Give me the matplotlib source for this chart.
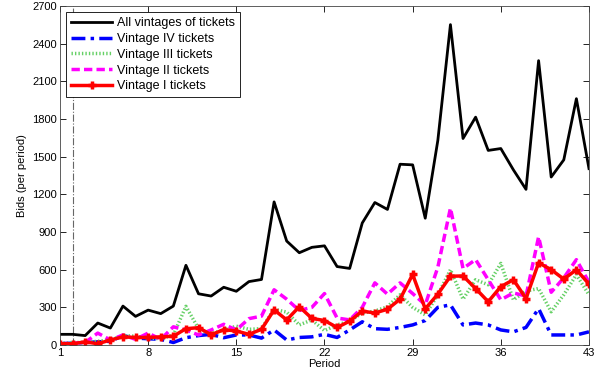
import numpy as np
import matplotlib
matplotlib.use("Agg")
import matplotlib.pyplot as plt

plt.rcParams.update({
    'font.family': ['Liberation Sans', 'DejaVu Sans'],
    'font.size': 8,
    'axes.labelsize': 8,
    'xtick.labelsize': 8,
    'ytick.labelsize': 8,
    'legend.fontsize': 9,
})

period = np.arange(1, 44)

all_vintages = [85, 85, 75, 175, 135, 310, 228, 278, 250, 310,
                635, 408, 390, 460, 428, 505, 522, 1140, 828, 735,
                778, 790, 625, 610, 972, 1135, 1080, 1440, 1435, 1010,
                1630, 2552, 1645, 1815, 1550, 1565, 1395, 1240, 2265, 1338,
                1475, 1962, 1405]
vintage_iv = [10, 15, 20, 25, 30, 75, 55, 50, 45, 20,
              58, 75, 85, 58, 80, 80, 55, 120, 40, 60,
              65, 85, 60, 120, 185, 130, 125, 140, 160, 195,
              300, 320, 160, 175, 160, 120, 105, 140, 290, 80,
              80, 80, 105]
vintage_iii = [15, 20, 20, 30, 40, 75, 70, 55, 50, 80,
               308, 130, 90, 120, 150, 125, 130, 285, 262, 160,
               200, 115, 160, 190, 255, 270, 305, 400, 300, 240,
               400, 600, 365, 520, 480, 650, 360, 430, 450, 265,
               400, 560, 400]
vintage_ii = [10, 15, 20, 95, 40, 80, 45, 95, 45, 145,
              120, 80, 120, 165, 120, 210, 230, 440, 365, 275,
              300, 410, 215, 200, 300, 495, 405, 495, 410, 320,
              620, 1090, 610, 680, 520, 360, 415, 390, 862, 420,
              535, 680, 500]
vintage_i = [10, 10, 25, 10, 40, 65, 60, 60, 65, 70,
             130, 138, 82, 122, 112, 85, 125, 280, 200, 305,
             212, 195, 140, 190, 270, 255, 285, 365, 562, 288,
             405, 548, 550, 450, 345, 465, 520, 370, 655, 600,
             525, 600, 485]

fig = plt.figure(figsize=(6.01, 3.83), dpi=100)
ax = fig.add_axes([0.0998, 0.0992, 0.8802, 0.885])

ax.axvline(2, color='#666666', linestyle='-.', linewidth=0.8, zorder=1)

ax.plot(period, all_vintages, color='black', linewidth=2, label='All vintages of tickets')
ax.plot(period, vintage_iv, color='#0000ff', linestyle='-.', dashes=(4, 1.5, 1, 1.5),
        linewidth=2.5, label='Vintage IV tickets')
ax.plot(period, vintage_iii, color='#66d066', linestyle=':', dashes=(0.4, 0.6),
        linewidth=2.5, label='Vintage III tickets')
ax.plot(period, vintage_ii, color='#ff00ff', linestyle='--', dashes=(2.4, 1.2),
        linewidth=2.5, label='Vintage II tickets')
ax.plot(period, vintage_i, color='#ff0000', linewidth=2.5, marker='+', markersize=6,
        markeredgewidth=2.5, label='Vintage I tickets')

ax.set_xlim(1, 43)
ax.set_ylim(0, 2700)
ax.set_xticks([1, 8, 15, 22, 29, 36, 43])
ax.set_yticks(np.arange(0, 2701, 300))
ax.tick_params(direction='in', top=True, right=True, length=4, width=0.6, pad=2)
for s in ax.spines.values():
    s.set_linewidth(0.6)
    s.set_color('#444444')

ax.set_xlabel('Period', labelpad=1)
ax.set_ylabel('Bids (per period)', labelpad=4)

leg = ax.legend(loc='upper left', fancybox=False, edgecolor='black', framealpha=1,
                handlelength=3.3, handletextpad=0.4, labelspacing=0.3,
                borderpad=0.4, borderaxespad=0.5)
leg.get_frame().set_linewidth(0.6)

plt.savefig('out.png', dpi=100)
